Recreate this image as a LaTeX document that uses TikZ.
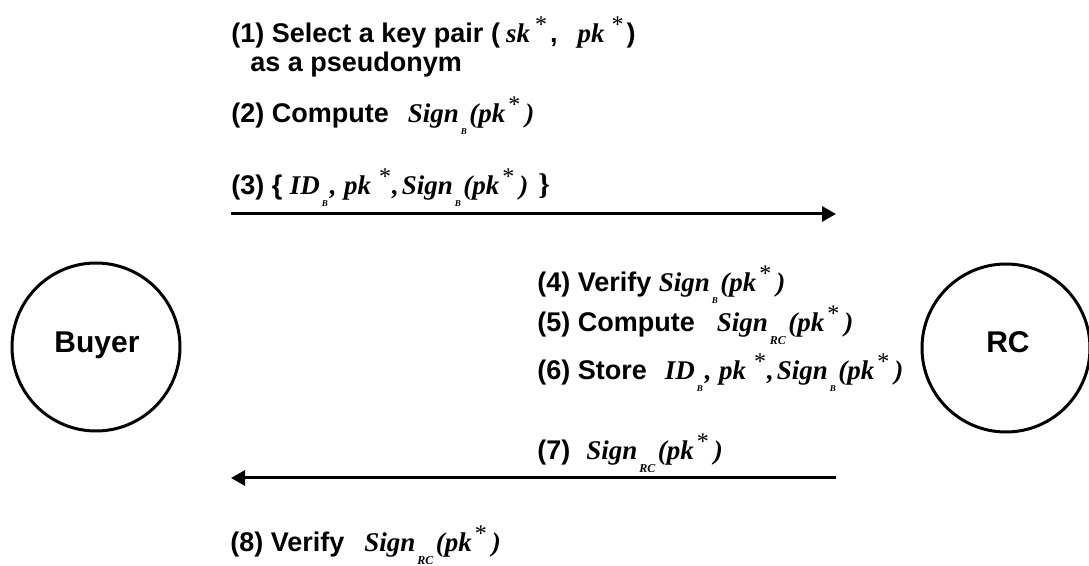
\documentclass[tikz,border=0pt]{standalone}
\usepackage{fontspec}
\setmainfont{Liberation Sans}
\newfontfamily\tmsfont{Liberation Serif}
\usetikzlibrary{arrows.meta}

% italic formula pieces
\newcommand{\mth}[1]{{\tmsfont\bfseries\itshape #1}}
\newcommand{\lowB}{\raisebox{-6pt}{\tmsfont\bfseries\itshape\fontsize{4.5}{5}\selectfont B}}
\newcommand{\lowRC}{\raisebox{-6.5pt}{\tmsfont\bfseries\itshape\fontsize{6}{7}\selectfont RC}}
\newcommand{\hstar}{\raisebox{5pt}{\tmsfont\mdseries\upshape\fontsize{12}{12}\selectfont *}}
% pk with a raised star; #1 gap before the star, #2 gap after it
\newcommand{\pkx}[2]{\mth{pk}\hspace{#1}\hstar\hspace{#2}}
\newcommand{\signB}{\mth{Sign}\hspace{1pt}\lowB\hspace{1.2pt}\mth{(}\pkx{1.5pt}{2.5pt}\mth{)}}
\newcommand{\signRC}{\mth{Sign}\hspace{1pt}\lowRC\hspace{1.2pt}\mth{(}\pkx{1.5pt}{2.5pt}\mth{)}}
\newcommand{\idB}{\mth{ID}\hspace{1pt}\lowB\hspace{1pt}\mth{,} \pkx{4pt}{0.5pt}\mth{,}\hspace{1.5pt}}

\tikzset{
  every picture/.style={x=0.5pt,y=-0.5pt},
  party/.style={circle,draw,line width=1.5pt,minimum size=84pt,inner sep=0pt},
  partyname/.style={anchor=base,inner sep=0pt,font=\fontsize{15}{17}\selectfont\bfseries},
  steptext/.style={anchor=base west,inner sep=0pt,
    font=\fontsize{13.5}{16}\selectfont\bfseries},
  msg/.style={line width=1.5pt,-{Triangle[length=7pt,width=7.5pt]}}
}

\begin{document}
\begin{tikzpicture}
\useasboundingbox (0,0) rectangle (1089,566);

% participants
\node[party] (buyer) at (96,347) {};
\node[party] (rc) at (1006,348) {};
\node[partyname] (buyername) at (97,353) {Buyer};
\node[partyname] (rcname) at (1008,353) {RC};

% steps on the buyer side
\node[steptext] (t1) at (231,43) {(1) Select a key pair (\hspace{3pt}\mth{sk}\hspace{2.5pt}\hstar\hspace{1.5pt},\hspace{10pt}\mth{pk}\hspace{3.5pt}\hstar\hspace{1.5pt})};
\node[steptext] (t1b) at (250,72) {as a pseudonym};
\node[steptext] (t2) at (231,123) {(2) Compute\hspace{9.5pt}\signB};
\node[steptext] (t3) at (231,195) {(3) \{ \idB\signB\hspace{5pt}{\tmsfont\bfseries\fontsize{15}{16}\selectfont\}}};

% steps on the RC side
\node[steptext] (t4) at (537,292) {(4) Verify \signB};
\node[steptext] (t5) at (537,332) {(5) Compute\hspace{11pt}\signRC};
\node[steptext] (t6) at (537,380) {(6) Store\hspace{9pt}\idB\signB};
\node[steptext] (t7) at (537,460) {(7)\hspace{8pt}\signRC};

% final step on the buyer side
\node[steptext] (t8) at (230,552) {(8) Verify\hspace{10pt}\signRC};

% messages
\coordinate (m1s) at (231,214);
\coordinate (m1e) at (836,214);
\coordinate (m2s) at (836,478);
\coordinate (m2e) at (231,478);
\draw[msg] (m1s) -- (m1e);
\draw[msg] (m2s) -- (m2e);
\end{tikzpicture}
\end{document}
